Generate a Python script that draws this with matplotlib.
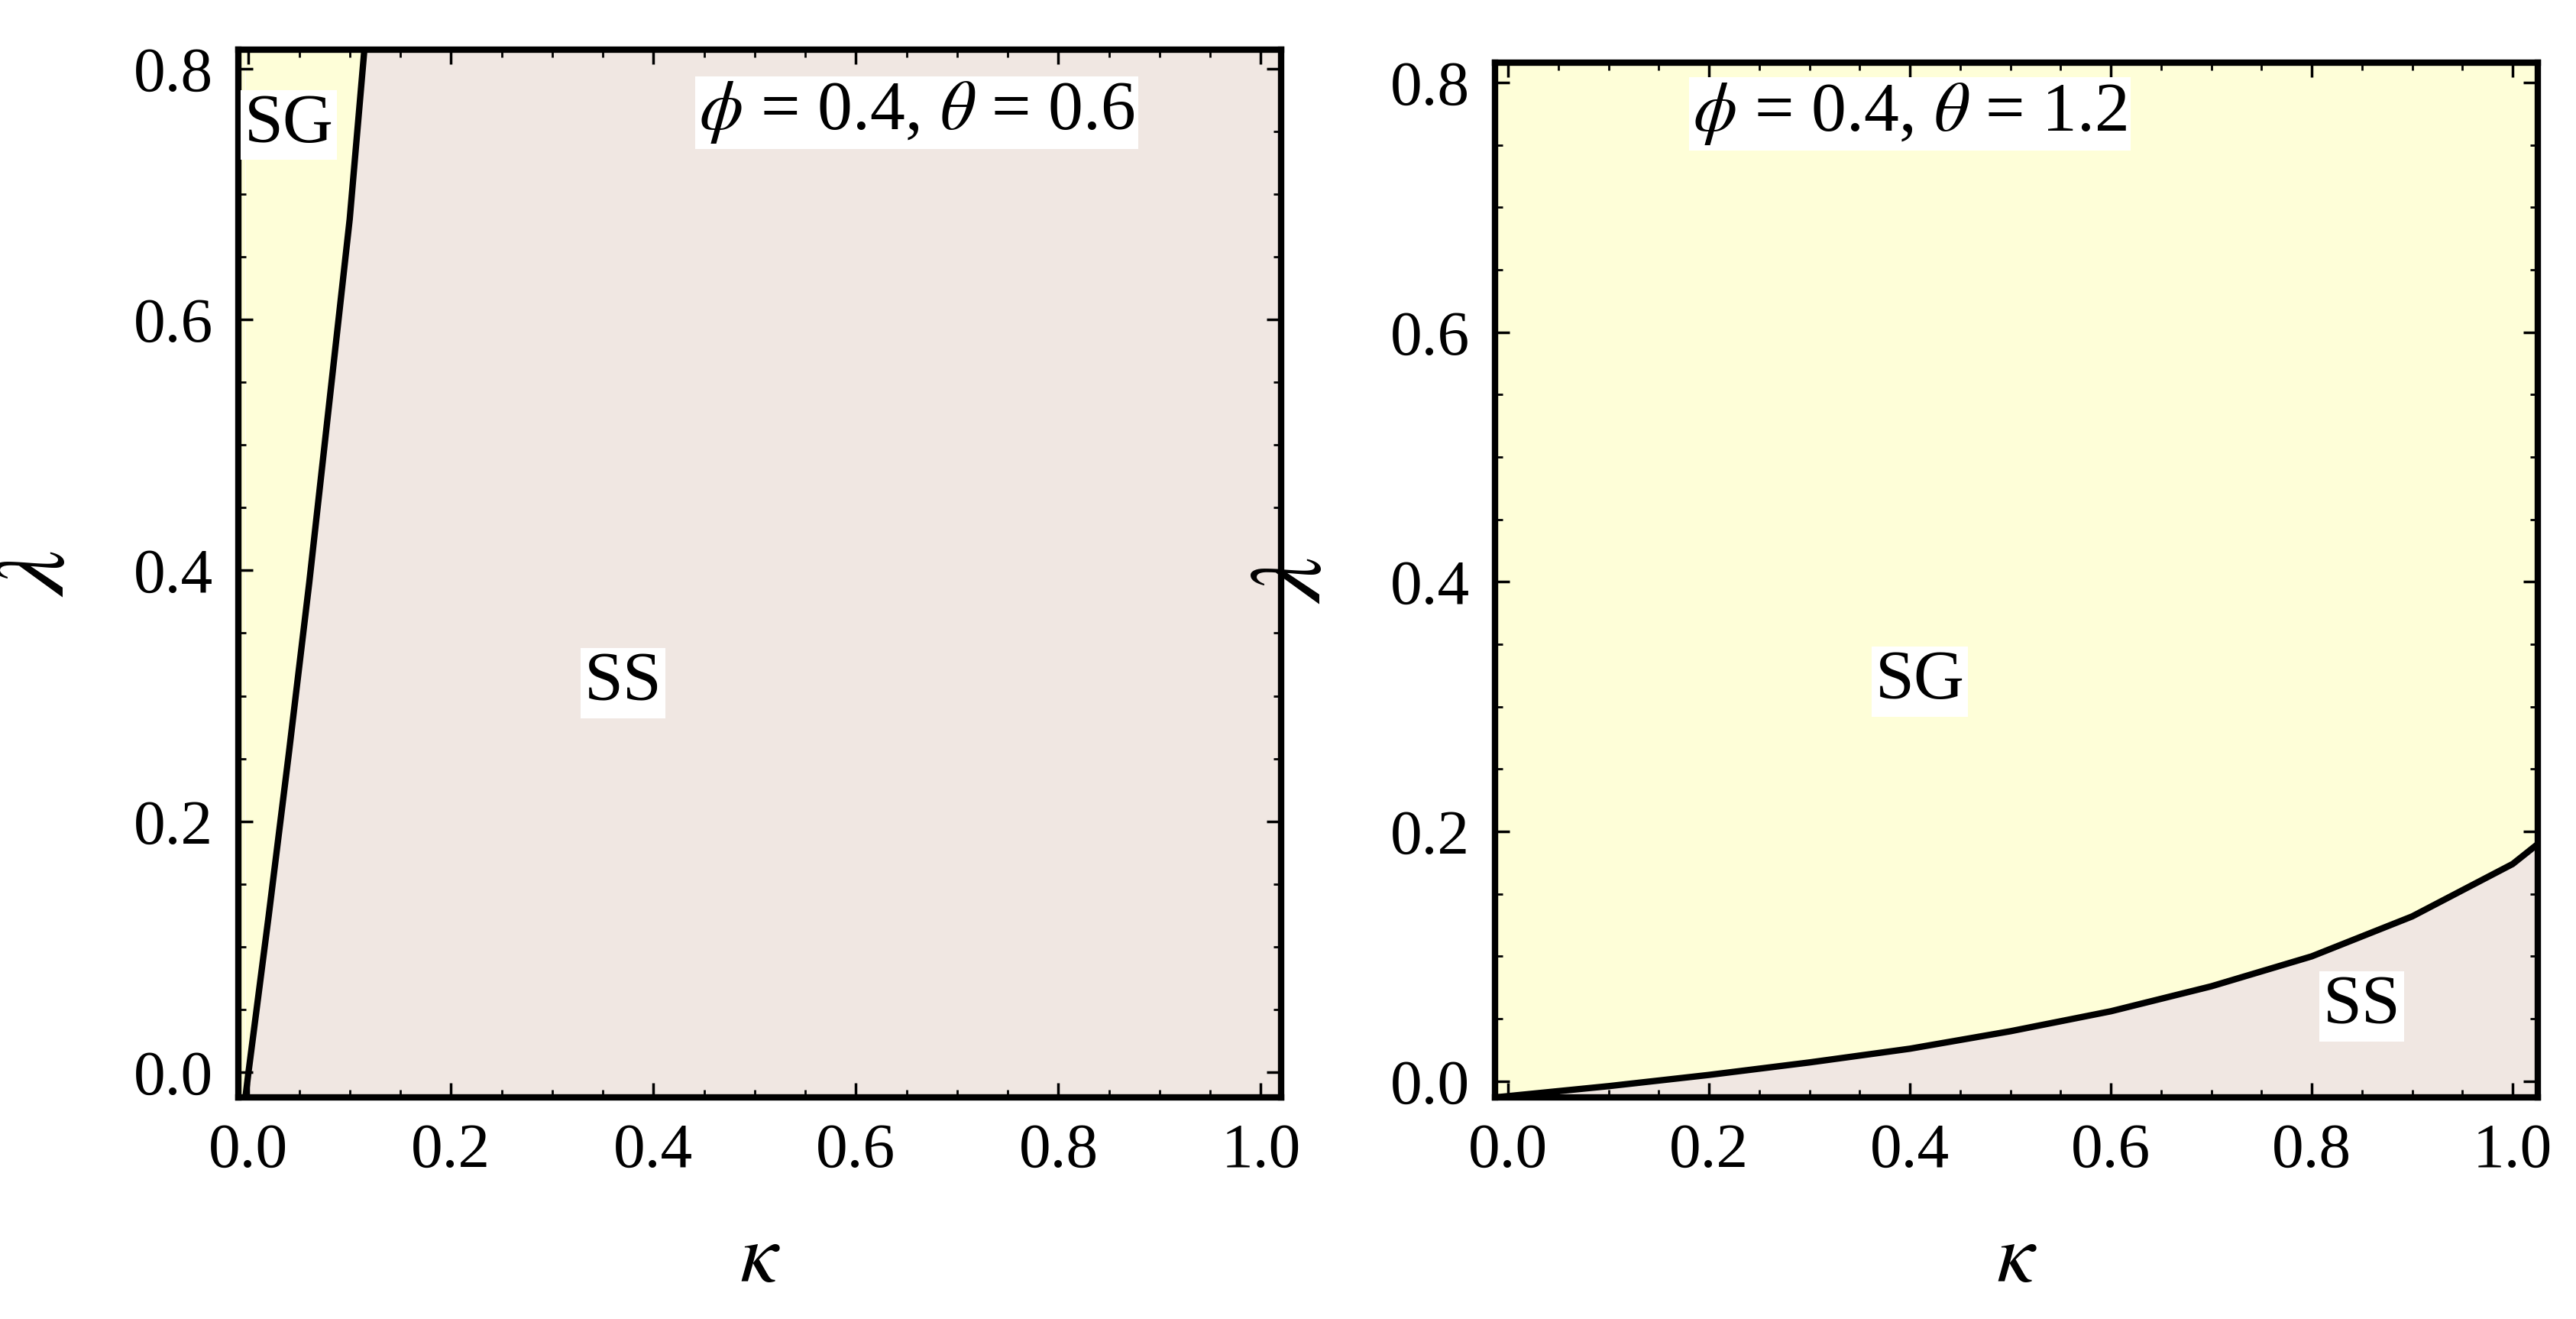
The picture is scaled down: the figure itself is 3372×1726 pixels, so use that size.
import matplotlib
matplotlib.use('Agg')
import matplotlib.pyplot as plt
import numpy as np
from matplotlib.ticker import MultipleLocator

plt.rcParams['font.family'] = ['Liberation Serif', 'DejaVu Serif']
plt.rcParams['mathtext.fontset'] = 'stix'

SG_COLOR = '#fefed8'
SS_COLOR = '#f0e7e2'

# left panel boundary: phi=0.4, theta=0.6
kappa_left = [-0.003, 0.0, 0.02, 0.04, 0.06, 0.08, 0.10, 0.115]
lambda_left = [-0.02, 0.0, 0.125, 0.255, 0.39, 0.535, 0.68, 0.82]

# right panel boundary: phi=0.4, theta=1.2
kappa_right = [-0.013, 0.0, 0.1, 0.2, 0.3, 0.4, 0.5, 0.6, 0.7, 0.8, 0.9, 1.0, 1.025]
lambda_right = [-0.013, -0.012, -0.004, 0.005, 0.015, 0.026, 0.04, 0.056, 0.076, 0.1, 0.132, 0.174, 0.19]

fig = plt.figure(figsize=(33.73, 17.26), dpi=100)
ax1 = fig.add_axes([312/3373, 1-1436/1726, 1365/3373, 1371/1726])
ax2 = fig.add_axes([1957/3373, 1-1436/1726, 1365/3373, 1354/1726])

def style(ax, xlim, ylim):
    ax.set_xlim(*xlim)
    ax.set_ylim(*ylim)
    ax.xaxis.set_major_locator(MultipleLocator(0.2))
    ax.xaxis.set_minor_locator(MultipleLocator(0.05))
    ax.yaxis.set_major_locator(MultipleLocator(0.2))
    ax.yaxis.set_minor_locator(MultipleLocator(0.05))
    ax.tick_params(which='both', direction='in', top=True, right=True, labelsize=60, pad=24)
    ax.tick_params(which='major', length=14, width=2.5)
    ax.tick_params(which='minor', length=7, width=2)
    ax.xaxis.set_major_formatter(matplotlib.ticker.FormatStrFormatter('%.1f'))
    ax.yaxis.set_major_formatter(matplotlib.ticker.FormatStrFormatter('%.1f'))
    for s in ax.spines.values():
        s.set_linewidth(6)
    ax.set_xlabel(r'$\kappa$', fontsize=80, labelpad=40)
    ax.set_ylabel(r'$\lambda$', fontsize=96, labelpad=45, rotation=90)

box = dict(facecolor='white', edgecolor='none', pad=3)

# left
xl = (-0.01, 1.02); yl = (-0.02, 0.815)
k = np.array(kappa_left); l = np.array(lambda_left)
ax1.fill_between(k, l, yl[1], color=SG_COLOR, lw=0)
ax1.fill_betweenx(l, k, xl[1], color=SS_COLOR, lw=0)
ax1.fill_between([k[-1], xl[1]], yl[0], yl[1], color=SS_COLOR, lw=0)
ax1.fill_between([xl[0], k[0]], yl[0], yl[1], color=SG_COLOR, lw=0)
ax1.plot(k, l, color='black', lw=6)
style(ax1, xl, yl)
ax1.text(0.04, 0.755, 'SG', fontsize=66, ha='center', va='center', bbox=box)
ax1.text(0.37, 0.31, 'SS', fontsize=66, ha='center', va='center', bbox=box)
ax1.text(0.66, 0.765, r'$\phi$ = 0.4, $\theta$ = 0.6', fontsize=66, ha='center', va='center', bbox=box)

# right
xr = (-0.013, 1.025); yr = (-0.013, 0.816)
k = np.array(kappa_right); l = np.array(lambda_right)
ax2.set_facecolor(SG_COLOR)
ax2.fill_between(k, yr[0], l, color=SS_COLOR, lw=0)
ax2.plot(k, l, color='black', lw=6)
style(ax2, xr, yr)
ax2.text(0.41, 0.32, 'SG', fontsize=66, ha='center', va='center', bbox=box)
ax2.text(0.85, 0.06, 'SS', fontsize=66, ha='center', va='center', bbox=box)
ax2.text(0.40, 0.775, r'$\phi$ = 0.4, $\theta$ = 1.2', fontsize=66, ha='center', va='center', bbox=box)

fig.savefig('out.png', dpi=100)
